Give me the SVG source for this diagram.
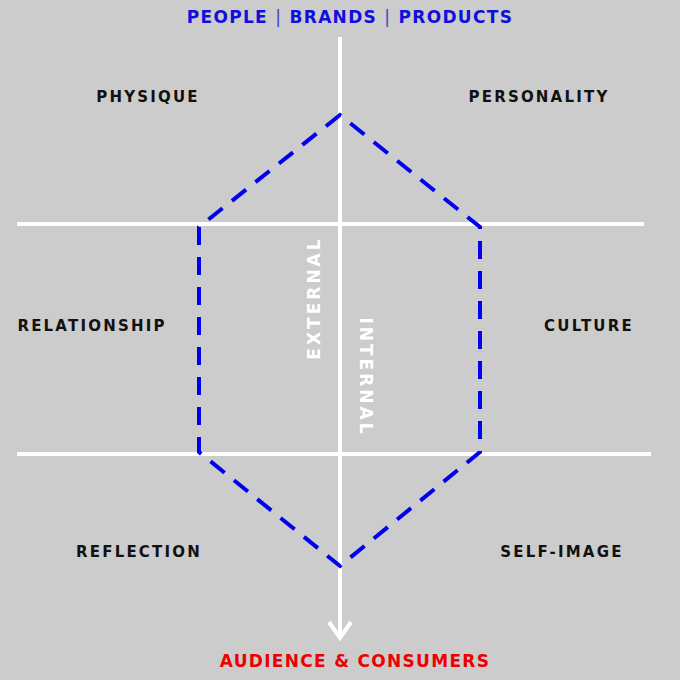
<svg xmlns="http://www.w3.org/2000/svg" width="680" height="680" viewBox="0 0 680 680">
<style>
.lbl{font-family:"DejaVu Sans","Liberation Sans",sans-serif;font-weight:bold;font-size:15px;fill:#111;text-anchor:middle;letter-spacing:2.2px}
.ttl{font-family:"DejaVu Sans","Liberation Sans",sans-serif;font-weight:bold;font-size:17px;text-anchor:middle;letter-spacing:1.3px}
.axis{font-family:"DejaVu Sans","Liberation Sans",sans-serif;font-weight:bold;font-size:17px;fill:#fff;text-anchor:middle;letter-spacing:3px}
.wl{stroke:#fff;stroke-width:4;fill:none}
</style>
<rect width="680" height="680" fill="#cccccc"/>
<g id="connectors">
<line class="wl" x1="17" y1="224" x2="644" y2="224"/>
<line class="wl" x1="17" y1="454" x2="651" y2="454"/>
<line class="wl" x1="340" y1="37" x2="340" y2="638"/>
<polyline class="wl" points="329,622 340,638 351,622" stroke-width="6"/>
<polygon points="340,115 199,227 199,452 340,566 480,452 480,227" fill="none" stroke="#0000ee" stroke-width="4" stroke-dasharray="18,12"/>
</g>
<g id="title"><text class="ttl" x="350" y="23" fill="#1010dd">PEOPLE <tspan font-weight="normal" fill="#4040cc">|</tspan> BRANDS <tspan font-weight="normal" fill="#4040cc">|</tspan> PRODUCTS</text></g>
<g id="physique"><text class="lbl" x="148" y="102">PHYSIQUE</text></g>
<g id="personality"><text class="lbl" x="539" y="102">PERSONALITY</text></g>
<g id="relationship"><text class="lbl" x="92" y="331">RELATIONSHIP</text></g>
<g id="culture"><text class="lbl" x="589" y="331">CULTURE</text></g>
<g id="reflection"><text class="lbl" x="139" y="557">REFLECTION</text></g>
<g id="selfimage"><text class="lbl" x="562" y="557">SELF-IMAGE</text></g>
<g id="external"><text class="axis" transform="translate(320,298) rotate(-90)">EXTERNAL</text></g>
<g id="internal"><text class="axis" transform="translate(360,377) rotate(90)">INTERNAL</text></g>
<g id="audience"><text class="ttl" x="355" y="667" fill="#ee0000">AUDIENCE &amp; CONSUMERS</text></g>
</svg>
